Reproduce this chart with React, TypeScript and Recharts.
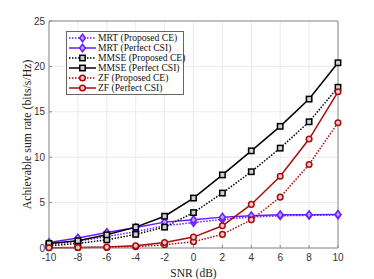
import { LineChart, Line, XAxis, YAxis, CartesianGrid, ReferenceLine } from 'recharts';

const snr = [-10, -8, -6, -4, -2, 0, 2, 4, 6, 8, 10];
const mrtProposed = [0.4, 0.75, 1.25, 1.8, 2.45, 2.8, 3.15, 3.4, 3.55, 3.6, 3.65];
const mrtPerfect = [0.6, 1.1, 1.7, 2.25, 2.85, 3.1, 3.4, 3.55, 3.65, 3.67, 3.7];
const mmseProposed = [0.25, 0.5, 0.9, 1.5, 2.3, 3.9, 6.05, 8.4, 11.0, 13.9, 17.7];
const mmsePerfect = [0.5, 0.8, 1.45, 2.3, 3.5, 5.5, 8.05, 10.7, 13.4, 16.4, 20.4];
const zfProposed = [0.02, 0.03, 0.06, 0.15, 0.35, 0.7, 1.5, 3.1, 5.6, 9.2, 13.8];
const zfPerfect = [0.03, 0.05, 0.1, 0.25, 0.6, 1.2, 2.45, 4.8, 7.9, 12.0, 17.2];
const xTicks = [-10, -8, -6, -4, -2, 0, 2, 4, 6, 8, 10];
const yTicks = [0, 5, 10, 15, 20, 25];

const PURPLE = '#6a1cff';
const RED = '#a80c0c';
const BLACK = '#000000';
const AXIS = '#8a8a8a';
const SERIF = '"Liberation Serif", "DejaVu Serif", serif';

const data = snr.map((s, i) => ({
  snr: s,
  mrtProposed: mrtProposed[i],
  mrtPerfect: mrtPerfect[i],
  mmseProposed: mmseProposed[i],
  mmsePerfect: mmsePerfect[i],
  zfProposed: zfProposed[i],
  zfPerfect: zfPerfect[i],
}));

type Shape = 'diamond' | 'square' | 'circle';

const marker = (shape: Shape, color: string, cx: number, cy: number, key?: string) => {
  if (shape === 'diamond') {
    return <polygon key={key} points={`${cx},${cy - 3.8} ${cx + 2.9},${cy} ${cx},${cy + 3.8} ${cx - 2.9},${cy}`} fill="#b9a0ff" stroke={color} strokeWidth={1.5} />;
  }
  if (shape === 'square') {
    return <rect key={key} x={cx - 2.7} y={cy - 2.7} width={5.4} height={5.4} fill="#d0d0d0" stroke={color} strokeWidth={1.5} />;
  }
  return <circle key={key} cx={cx} cy={cy} r={2.8} fill="#f0c8c8" stroke={color} strokeWidth={1.5} />;
};

const dotFn = (shape: Shape, color: string) => (p: any) =>
  marker(shape, color, p.cx, p.cy, `${shape}-${p.index}`);

const series = [
  { key: 'mrtProposed', name: 'MRT (Proposed CE)', color: PURPLE, shape: 'diamond' as Shape, dashed: true },
  { key: 'mrtPerfect', name: 'MRT (Perfect CSI)', color: PURPLE, shape: 'diamond' as Shape, dashed: false },
  { key: 'mmseProposed', name: 'MMSE (Proposed CE)', color: BLACK, shape: 'square' as Shape, dashed: true },
  { key: 'mmsePerfect', name: 'MMSE (Perfect CSI)', color: BLACK, shape: 'square' as Shape, dashed: false },
  { key: 'zfProposed', name: 'ZF (Proposed CE)', color: RED, shape: 'circle' as Shape, dashed: true },
  { key: 'zfPerfect', name: 'ZF (Perfect CSI)', color: RED, shape: 'circle' as Shape, dashed: false },
];

const LegendBox = () => (
  <div style={{ position: 'absolute', left: 66, top: 31, width: 114, height: 60, background: '#fff', border: '1px solid #666', padding: '1px 1px', fontFamily: SERIF, fontSize: 9.6, lineHeight: '10px', color: '#111' }}>
    {series.map((s) => (
      <div key={s.key} style={{ display: 'flex', alignItems: 'center', height: 10 }}>
        <svg width={29} height={10} style={{ marginRight: 1, flex: 'none' }}>
          <line x1={1} y1={5} x2={28} y2={5} stroke={s.color} strokeWidth={1.5} strokeDasharray={s.dashed ? '1.5 1.5' : undefined} />
          {marker(s.shape, s.color, 14.5, 5)}
        </svg>
        <span style={{ whiteSpace: 'nowrap' }}>{s.name}</span>
      </div>
    ))}
  </div>
);

export default function App() {
  return (
    <div style={{ position: 'absolute', left: 0, top: 0, width: 374, height: 279, background: '#fff' }}>
      <LineChart width={374} height={279} data={data} margin={{ top: 21, right: 36, bottom: 0, left: 29 }}>
        <CartesianGrid stroke="#e6e6e6" strokeWidth={0.8} />
        <XAxis dataKey="snr" type="number" domain={[-10, 10]} ticks={xTicks} height={31}
          stroke={AXIS} tickSize={-3} tickMargin={9}
          tick={{ fontSize: 10, fill: '#333', fontFamily: '"Liberation Sans", Arial, sans-serif' }}
          label={{ value: 'SNR (dB)', position: 'insideBottom', offset: 2, style: { fontSize: 11.5, fill: '#222', fontFamily: SERIF } }} />
        <YAxis type="number" domain={[0, 25]} ticks={yTicks} width={20} stroke={AXIS} tickSize={-3} tickMargin={7}
          tick={{ fontSize: 10, fill: '#333', fontFamily: '"Liberation Sans", Arial, sans-serif' }}
          label={{ value: 'Achievable sum rate (bits/s/Hz)', angle: -90, position: 'insideLeft', offset: -2, style: { textAnchor: 'middle', fontSize: 11.8, fill: '#222', fontFamily: SERIF } }} />
        <ReferenceLine x={10} stroke={AXIS} strokeWidth={1} />
        <ReferenceLine y={25} stroke={AXIS} strokeWidth={1} />
        {series.map((s) => (
          <Line key={s.key} dataKey={s.key} name={s.name} stroke={s.color} strokeWidth={1.5}
            strokeDasharray={s.dashed ? '1.5 1.5' : undefined} dot={dotFn(s.shape, s.color)}
            isAnimationActive={false} />
        ))}
      </LineChart>
      <LegendBox />
    </div>
  );
}
